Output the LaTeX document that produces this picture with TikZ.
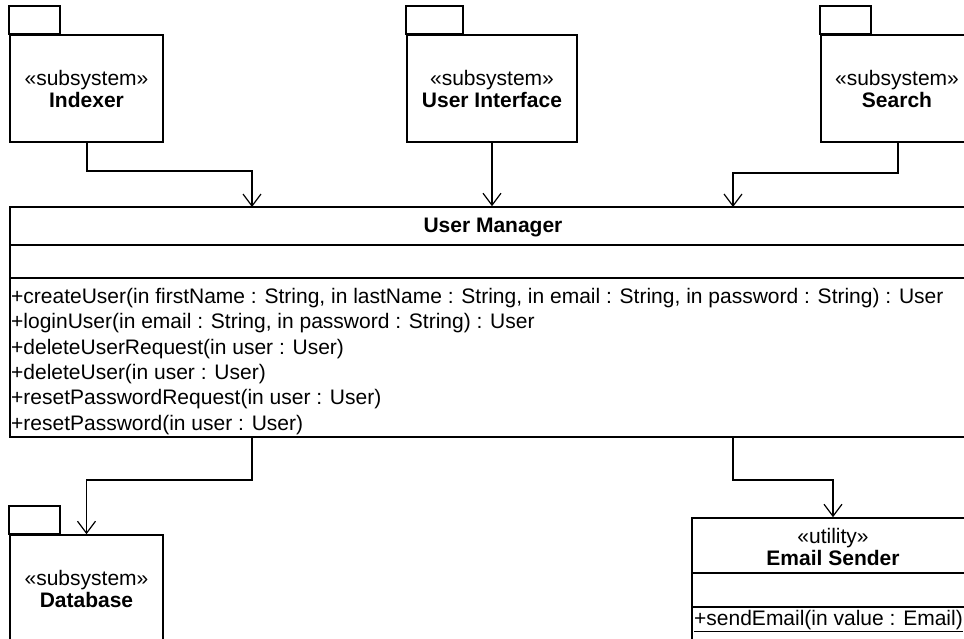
\documentclass[tikz,border=0pt]{standalone}
\usepackage{fontspec}
\setmainfont{Liberation Sans}
\usetikzlibrary{arrows.meta,calc}

\tikzset{
  base/.style={font=\fontsize{21}{22}\selectfont},
  box/.style={draw, line width=1.6pt, inner sep=0pt, rectangle},
  pkg/.style={box, base, minimum width=153pt, minimum height=107pt, align=center},
  tabline/.style={draw, line width=1.6pt},
  conn/.style={line width=1.2pt, -{Straight Barb[length=12pt,width=18pt,line width=1.2pt]}},
  label/.style={base, inner sep=0pt, align=center},
  optext/.style={base, inner sep=0pt, anchor=base west},
}

\begin{document}
\begin{tikzpicture}[x=1pt, y=-1pt]
\useasboundingbox (0,0) rectangle (964,638);
\clip (0,0) rectangle (964,638);

% subsystem packages (body + tab)
\node[pkg] (indexer) at (86.5,88.5) {«subsystem»\\\textbf{Indexer}};
\draw[tabline] (indexer.north west) rectangle ++(51pt,28pt);

\node[pkg, minimum width=170pt] (ui) at (492,88.5) {«subsystem»\\\textbf{User Interface}};
\draw[tabline] (ui.north west) rectangle ++(57pt,28pt);

\node[pkg, minimum width=152pt] (search) at (897,88.5) {«subsystem»\\\textbf{Search}};
\draw[tabline] (search.north west) rectangle ++(51pt,28pt);

\node[pkg] (db) at (86.5,588.5) {«subsystem»\\\textbf{Database}};
\draw[tabline] (db.north west) rectangle ++(51pt,28pt);

% User Manager class
\node[box, minimum width=966pt, minimum height=230pt] (um) at (493,322) {};
\node[label] (umname) at (493,227) {\textbf{User Manager}};
\draw[tabline] ($(um.north west)+(0,39)$) -- ($(um.north east)+(0,39)$);
\draw[tabline] ($(um.north west)+(0,72)$) -- ($(um.north east)+(0,72)$);
\foreach [count=\i] \t in {
  {+createUser(in firstName : String, in lastName : String, in email : String, in password : String) : User},
  {+loginUser(in email : String, in password : String) : User},
  {+deleteUserRequest(in user : User)},
  {+deleteUser(in user : User)},
  {+resetPasswordRequest(in user : User)},
  {+resetPassword(in user : User)}}
  \node[optext] (op\i) at (11,{303.5+25.3*(\i-1)}) {\t};

% Email Sender utility class
\node[box, minimum width=282pt, minimum height=142pt] (es) at (833,589) {};
\node[label] (esname) at (833,547) {«utility»\\\textbf{Email Sender}};
\draw[tabline] ($(es.north west)+(0,56)$) -- ($(es.north east)+(0,56)$);
\draw[tabline] ($(es.north west)+(0,90)$) -- ($(es.north east)+(0,90)$);
\node[optext] (esop) at (694,625) {\underline{+sendEmail(in value : Email)}};

% connector end points on the class boxes
\coordinate (umIn1) at (252,207);
\coordinate (umIn3) at (733,207);
\coordinate (umOut1) at (252,437);
\coordinate (umOut2) at (733,437);
\coordinate (idxOut) at (87,142);
\coordinate (srchOut) at (898,142);

% dependencies
\draw[conn] (idxOut) -- ++(0,29) -| (umIn1);
\draw[conn] (ui.south) -- (ui.south |- um.north);
\draw[conn] (srchOut) -- ++(0,31) -| (umIn3);
\draw[conn] (umOut1) -- ++(0,43) -| (db.north);
\draw[conn] (umOut2) -- ++(0,43) -| (es.north);
\end{tikzpicture}
\end{document}
